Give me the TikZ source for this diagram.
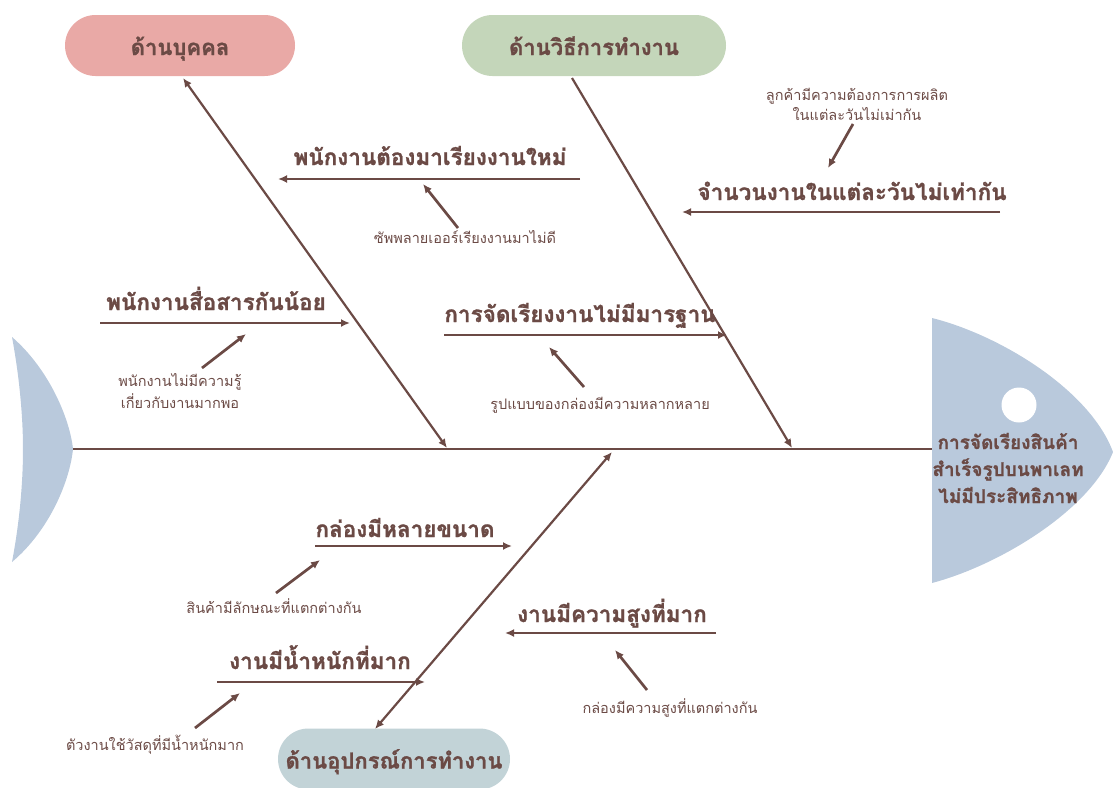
\documentclass[tikz,border=0pt]{standalone}
\usepackage{fontspec}
\newfontfamily\thaifont[Script=Thai, BoldFeatures={FakeBold=1.2}]{Loma}
\usetikzlibrary{arrows.meta}
\definecolor{brn}{HTML}{6B4A45}
\definecolor{fishblue}{HTML}{B9C9DC}
\definecolor{pinkbox}{HTML}{E9A9A6}
\definecolor{greenbox}{HTML}{C4D6BA}
\definecolor{tealbox}{HTML}{C2D3D7}
\begin{document}
\begin{tikzpicture}[x=1pt,y=-1pt,
  cat/.style={rounded corners=30.5pt, minimum height=61pt, inner sep=0pt,
    text height=22pt, text depth=3pt, font=\thaifont\bfseries\fontsize{22}{26}\selectfont, text=brn},
  title/.style={anchor=base, inner sep=0pt, font=\thaifont\bfseries\fontsize{22.5}{26}\selectfont, text=brn},
  note/.style={anchor=base, inner sep=0pt, align=center, font=\thaifont\fontsize{14.5}{20}\selectfont, text=brn},
  headtext/.style={inner sep=0pt, align=center, font=\thaifont\bfseries\fontsize{19}{27}\selectfont, text=brn},
  rib/.style={draw=brn, line width=2.2pt},
  sub/.style={draw=brn, line width=2.7pt},
  tip/.style={-{Latex[length=9pt,width=8pt]}},
  tips/.style={{Latex[length=9pt,width=8pt]}-{Latex[length=9pt,width=8pt]}},
]
\useasboundingbox (0,0) rectangle (1113,787);
% fish tail and head
\fill[fishblue] (12,337) .. controls (50,370) and (70,420) .. (73,449)
  .. controls (70,480) and (50,530) .. (12,562)
  .. controls (20,520) and (23,480) .. (23,449)
  .. controls (23,420) and (20,380) .. (12,337) -- cycle;
\fill[fishblue] (932,318) .. controls (1000,335) and (1090,390) .. (1113,452)
  .. controls (1090,510) and (1000,565) .. (932,583) -- cycle;
\fill[white] (1019,405) circle (17.5);
\node[headtext] (head) at (1008,468) {การจัดเรียงสินค้า\\สำเร็จรูปบนพาเลท\\ไม่มีประสิทธิภาพ};
% spine
\coordinate (tailtip) at (73,449);
\coordinate (headl) at (932,449);
\draw[rib] (tailtip) -- (headl);
% category boxes
\node[cat, fill=pinkbox, minimum width=230pt] (people) at (180,45.5) {ด้านบุคคล};
\node[cat, fill=greenbox, minimum width=264pt] (method) at (594,45.5) {ด้านวิธีการทำงาน};
\node[cat, fill=tealbox, minimum width=232pt] (equip) at (394,759) {ด้านอุปกรณ์การทำงาน};
% main ribs
\coordinate (pe1) at (183,78); \coordinate (pe2) at (447,448);
\draw[rib, tips] (pe1) -- (pe2);
\coordinate (me1) at (572,78); \coordinate (me2) at (792,448);
\draw[rib, tip] (me1) -- (me2);
\coordinate (eq1) at (612,452); \coordinate (eq2) at (375,729);
\draw[rib, tips] (eq1) -- (eq2);
% cause A
\coordinate (a1) at (580,179); \coordinate (a0) at (278,179);
\draw[sub, tip] (a1) -- (a0);
\node[title] (ta) at (430,165) {พนักงานต้องมาเรียงงานใหม่};
\node[note] (na) at (465,243) {ซัพพลายเออร์เรียงงานมาไม่ดี};
\coordinate (na1) at (458,228); \coordinate (na2) at (423,184);
\draw[sub, tip] (na1) -- (na2);
% cause B
\coordinate (b1) at (1000,212); \coordinate (b0) at (682,212);
\draw[sub, tip] (b1) -- (b0);
\node[title] (tb) at (852,200) {จำนวนงานในแต่ละวันไม่เท่ากัน};
\node[note] (nb1) at (857,100) {ลูกค้ามีความต้องการการผลิต};
\node[note] (nb2) at (857,120) {ในแต่ละวันไม่เม่ากัน};
\coordinate (nbs) at (853,124); \coordinate (nbe) at (828,168);
\draw[sub, tip] (nbs) -- (nbe);
% cause C
\coordinate (c0) at (100,323); \coordinate (c1) at (350,323);
\draw[sub, tip] (c0) -- (c1);
\node[title] (tc) at (216,310) {พนักงานสื่อสารกันน้อย};
\node[note] (nc1) at (180,386) {พนักงานไม่มีความรู้};
\node[note] (nc2) at (180,408) {เกี่ยวกับงานมากพอ};
\coordinate (ncs) at (202,368); \coordinate (nce) at (246,334);
\draw[sub, tip] (ncs) -- (nce);
% cause D
\coordinate (d0) at (444,335); \coordinate (d1) at (727,335);
\draw[sub, tip] (d0) -- (d1);
\node[title] (td) at (580,322) {การจัดเรียงงานไม่มีมารฐาน};
\node[note] (nd) at (600,409) {รูปแบบของกล่องมีความหลากหลาย};
\coordinate (nds) at (584,387); \coordinate (nde) at (549,347);
\draw[sub, tip] (nds) -- (nde);
% cause E
\coordinate (e0) at (315,546); \coordinate (e1) at (512,546);
\draw[sub, tip] (e0) -- (e1);
\node[title] (te) at (405,537) {กล่องมีหลายขนาด};
\node[note] (ne) at (274,613) {สินค้ามีลักษณะที่แตกต่างกัน};
\coordinate (nes) at (276,593); \coordinate (nee) at (320,560);
\draw[sub, tip] (nes) -- (nee);
% cause F
\coordinate (f1) at (716,633); \coordinate (f0) at (505,633);
\draw[sub, tip] (f1) -- (f0);
\node[title] (tf) at (612,622) {งานมีความสูงที่มาก};
\node[note] (nf) at (670,713) {กล่องมีความสูงที่แตกต่างกัน};
\coordinate (nfs) at (647,690); \coordinate (nfe) at (615,650);
\draw[sub, tip] (nfs) -- (nfe);
% cause G
\coordinate (g0) at (217,682); \coordinate (g1) at (425,682);
\draw[sub, tip] (g0) -- (g1);
\node[title] (tg) at (320,669) {งานมีน้ำหนักที่มาก};
\node[note] (ng) at (155,750) {ตัวงานใช้วัสดุที่มีน้ำหนักมาก};
\coordinate (ngs) at (195,728); \coordinate (nge) at (240,693);
\draw[sub, tip] (ngs) -- (nge);
\end{tikzpicture}
\end{document}
